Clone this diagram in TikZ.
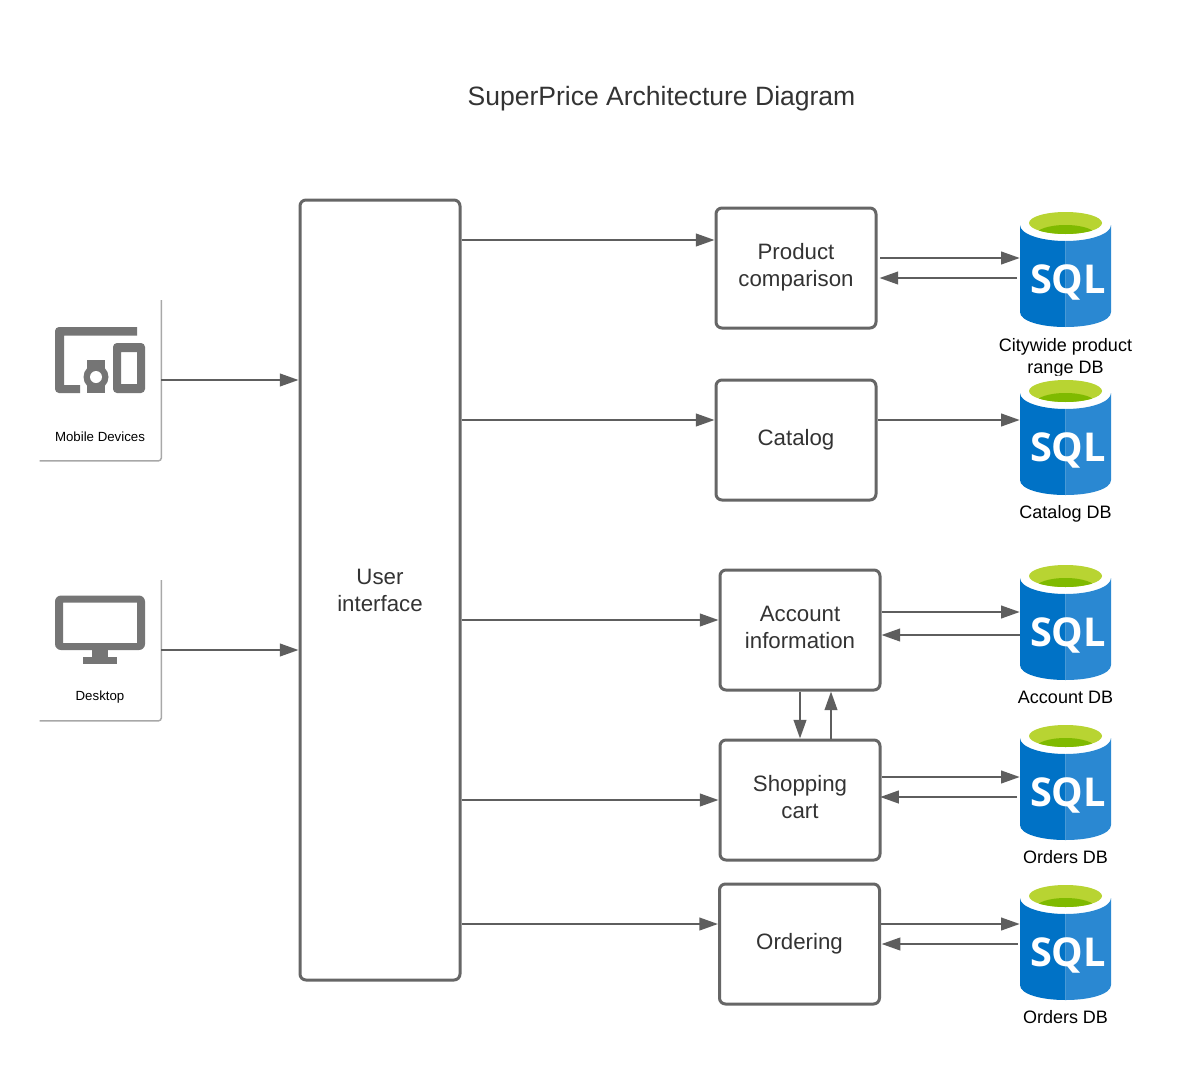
\documentclass[tikz,border=0pt]{standalone}
\usepackage{fontspec}
\setmainfont{Liberation Sans}
\newfontfamily\sqlfont{Open Sans}
\usetikzlibrary{arrows.meta,calc}
\definecolor{linegrey}{HTML}{5E5E5E}
\definecolor{boxgrey}{HTML}{666666}
\definecolor{icongrey}{HTML}{757575}
\definecolor{carded}{HTML}{A8A8A8}
\definecolor{inktext}{HTML}{333333}
\definecolor{azureL}{HTML}{0072C6}
\definecolor{azureR}{HTML}{2A88D2}
\definecolor{limeA}{HTML}{B8D432}
\definecolor{limeB}{HTML}{7FBA00}
\tikzset{
  px/.style={x=0.75pt,y=-0.75pt},
  svcbox/.style={draw=boxgrey,line width=2.25pt,rounded corners=4.5pt,fill=white,inner sep=0pt,
    align=center,text=inktext,font=\fontsize{16.7}{20.2}\selectfont},
  arr/.style={draw=linegrey,line width=1.5pt,-{Triangle[length=14pt,width=9.5pt]},shorten >=0pt},
  dbfoot/.style={inner sep=0pt,minimum width=68.25pt,minimum height=87pt},
  dblabel/.style={align=center,text=black,font=\fontsize{13.5}{16.5}\selectfont},
  devlabel/.style={text=black,font=\fontsize{9.95}{11}\selectfont},
  titletext/.style={text=inktext,font=\fontsize{19.9}{24}\selectfont},
  cardedge/.style={draw=carded,line width=1.1pt,rounded corners=2pt}
}
\newcommand{\liftlines}[3]{\raisebox{#1}{\begin{tabular}{@{}c@{}}#2\\#3\end{tabular}}}
\newcommand{\sqldb}[3]{% name, centre x, top y of the green rim
  \fill[white] (#2,#3+14) ellipse[x radius=45.5,y radius=17.5];
  \fill[azureL] (#2-45.5,#3+14) .. controls (#2-45.5,#3+23) and (#2-25,#3+30) .. (#2,#3+30)
     -- (#2,#3+116) .. controls (#2-25,#3+116) and (#2-45.5,#3+110) .. (#2-45.5,#3+101) -- cycle;
  \fill[azureR] (#2+45.5,#3+14) .. controls (#2+45.5,#3+23) and (#2+25,#3+30) .. (#2,#3+30)
     -- (#2,#3+116) .. controls (#2+25,#3+116) and (#2+45.5,#3+110) .. (#2+45.5,#3+101) -- cycle;
  \fill[limeA] (#2,#3+12) ellipse[x radius=36.5,y radius=11];
  \begin{scope}
    \clip (#2,#3+12) ellipse[x radius=36.5,y radius=11];
    \fill[limeB] (#2,#3+24) ellipse[x radius=30,y radius=10];
  \end{scope}
  \node[text=white,inner sep=0pt,font=\sqlfont\bfseries\fontsize{29.8}{30}\selectfont] at (#2+2.5,#3+71) {SQL};
  \node[dbfoot] (#1) at (#2,#3+58) {};
}
\begin{document}
\begin{tikzpicture}[px]
\useasboundingbox (0,0) rectangle (1181,1070);
\fill[white] (0,0) rectangle (1181,1070);

\node[titletext] (title) at (661.5,98.5) {SuperPrice Architecture Diagram};

% device cards
\node[inner sep=0pt,minimum width=90.75pt,minimum height=120pt] (mobile) at (100.5,380.5) {};
\node[inner sep=0pt,minimum width=90.75pt,minimum height=105pt] (desk) at (100.5,650.5) {};
\draw[cardedge] (mobile.north east) -- (mobile.south east) -- (mobile.south west);
\draw[cardedge] (desk.north east) -- (desk.south east) -- (desk.south west);

% mobile icon
\fill[icongrey] (80,393) [rounded corners=3pt] -- (55,393) -- (55,327) [sharp corners] -- (137,327) -- (137,335.5) -- (64,335.5) -- (64,385) -- (80,385) -- cycle;
\fill[icongrey] (87,360) rectangle (105,393);
\fill[icongrey] (96,377) circle[radius=12.5];
\fill[white] (96,377) circle[radius=6];
\fill[icongrey,even odd rule] [rounded corners=3pt] (113,343) rectangle (145,393) [sharp corners] (121,352) rectangle (137,384);
\node[devlabel] (mobiletxt) at (100,437) {Mobile Devices};

% desktop icon
\fill[icongrey,even odd rule] [rounded corners=4.5pt] (55,595.5) rectangle (145,650) [sharp corners] (63,602.5) rectangle (137,643);
\fill[icongrey] (92,650) rectangle (108,658);
\fill[icongrey] (83,657) rectangle (117,664);
\node[devlabel] (desktxt) at (100,697.5) {Desktop};

% services
\node[svcbox,minimum width=120pt,minimum height=585pt] (ui) at (380,590) {User\\interface};
\node[svcbox,minimum width=120pt,minimum height=90pt] (pc) at (796,268) {\liftlines{3.4pt}{Product}{comparison}};
\node[svcbox,minimum width=120pt,minimum height=90pt] (cat) at (796,440) {\raisebox{-0.75pt}{Catalog}};
\node[svcbox,minimum width=120pt,minimum height=90pt] (acc) at (800,630) {\liftlines{2.4pt}{Account}{information}};
\node[svcbox,minimum width=120pt,minimum height=90pt] (shop) at (800,800) {\liftlines{2.4pt}{Shopping}{cart}};
\node[svcbox,minimum width=120pt,minimum height=90pt] (ord) at (799.5,944) {\raisebox{-0.75pt}{Ordering}};

% databases and their captions (each drawn over the caption above it)
\node[dblabel] (l1) at (1065.5,357.5) {Citywide product\\range DB};
\sqldb{db1}{1065.5}{211}
\sqldb{db2}{1065.5}{379}
\node[dblabel] (l2) at (1065.5,514) {Catalog DB};
\sqldb{db3}{1065.5}{564}
\node[dblabel] (l3) at (1065.5,697) {Account DB};
\sqldb{db4}{1065.5}{724}
\node[dblabel] (l4) at (1065.5,857) {Orders DB};
\sqldb{db5}{1065.5}{884}
\node[dblabel] (l5) at (1065.5,1017) {Orders DB};

% connectors
\coordinate (mobout) at (161,380);
\coordinate (deskout) at (161,650);
\draw[arr] (mobout) -- (ui.west |- mobout);
\draw[arr] (deskout) -- (ui.west |- deskout);

\draw[arr] (ui.east |- 0,240) -- (pc.west |- 0,240);
\draw[arr] (ui.east |- 0,420) -- (cat.west |- 0,420);
\draw[arr] (ui.east |- 0,620) -- (acc.west |- 0,620);
\draw[arr] (ui.east |- 0,800) -- (shop.west |- 0,800);
\draw[arr] (ui.east |- 0,924) -- (ord.west |- 0,924);

\draw[arr] ([xshift=2pt]pc.east |- 0,258) -- (db1.west |- 0,258);
\draw[arr] ([xshift=-2pt]db1.west |- 0,278) -- ([xshift=1.5pt]pc.east |- 0,278);
\draw[arr] (cat.east |- 0,420) -- (db2.west |- 0,420);
\draw[arr] (acc.east |- 0,612) -- (db3.west |- 0,612);
\draw[arr] (db3.west |- 0,635) -- (acc.east |- 0,635);
\draw[arr] (shop.east |- 0,777) -- (db4.west |- 0,777);
\draw[arr] ([xshift=-2pt]db4.west |- 0,797) -- ([xshift=-1pt]shop.east |- 0,797);
\draw[arr] (ord.east |- 0,924) -- (db5.west |- 0,924);
\draw[arr] ([xshift=-1.5pt]db5.west |- 0,944) -- ([xshift=0.5pt]ord.east |- 0,944);

\draw[arr] (acc.south -| 800,0) -- (shop.north -| 800,0);
\draw[arr] (shop.north -| 831,0) -- (acc.south -| 831,0);
\end{tikzpicture}
\end{document}
